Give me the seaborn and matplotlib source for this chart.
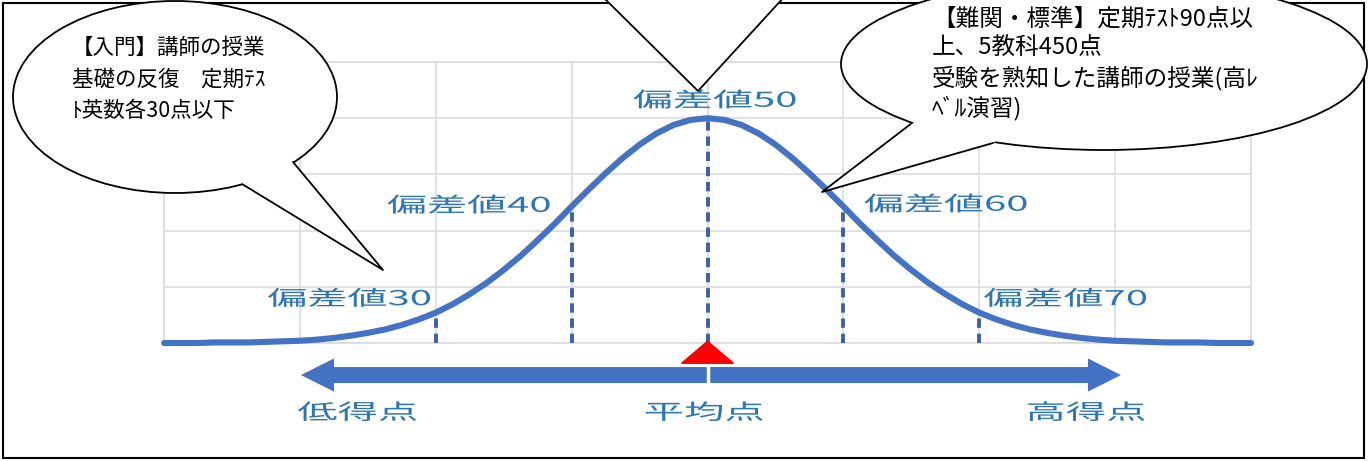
import matplotlib
matplotlib.use("Agg")
import pandas as pd
import seaborn as sns
import matplotlib.pyplot as plt
from matplotlib.patches import Ellipse, Polygon, Rectangle, FancyArrow
from matplotlib.lines import Line2D
from matplotlib.patheffects import AbstractPathEffect
from matplotlib.transforms import Affine2D

# bell curve, heights (one grid row = 1)
score_x = [10, 11.25, 12.5, 13.75, 15, 16.25, 17.5, 18.75, 20, 21.25, 22.5, 23.75, 25, 26.25, 27.5, 28.75,
           30, 31.25, 32.5, 33.75, 35, 36.25, 37.5, 38.75, 40, 41.25, 42.5, 43.75, 45, 46.25, 47.5, 48.75,
           50, 51.25, 52.5, 53.75, 55, 56.25, 57.5, 58.75, 60, 61.25, 62.5, 63.75, 65, 66.25, 67.5, 68.75,
           70, 71.25, 72.5, 73.75, 75, 76.25, 77.5, 78.75, 80, 81.25, 82.5, 83.75, 85, 86.25, 87.5, 88.75, 90]
curve_y = [0.00, 0.00, 0.00, 0.01, 0.01, 0.01, 0.02, 0.03, 0.04, 0.06, 0.09, 0.13, 0.18, 0.24, 0.32, 0.42,
           0.54, 0.69, 0.87, 1.07, 1.30, 1.55, 1.83, 2.12, 2.43, 2.73, 3.02, 3.29, 3.53, 3.73, 3.88, 3.97,
           4.00, 3.97, 3.88, 3.73, 3.53, 3.29, 3.02, 2.73, 2.43, 2.12, 1.83, 1.55, 1.30, 1.07, 0.87, 0.69,
           0.54, 0.42, 0.32, 0.24, 0.18, 0.13, 0.09, 0.06, 0.04, 0.03, 0.02, 0.01, 0.01, 0.01, 0.00, 0.00, 0.00]

dev_marks = [30, 40, 50, 60, 70]
dev_heights = [0.54, 2.43, 4.00, 2.43, 0.54]
dev_labels = ["偏差値30", "偏差値40", "偏差値50", "偏差値60", "偏差値70"]
dev_label_x = [17.6, 26.4, 44.5, 61.5, 70.3]
dev_label_y = [0.78, 2.44, 4.31, 2.46, 0.78]

scale_labels = ["低得点", "平均点", "高得点"]
scale_label_x = [19.8, 45.3, 73.4]
mean_score = 50

left_note = "【入門】講師の授業\n基礎の反復　定期ﾃｽ\nﾄ英数各30点以下"
right_note = "【難関・標準】定期ﾃｽﾄ90点以\n上、5教科450点\n受験を熟知した講師の授業(高ﾚ\nﾍﾞﾙ演習)"

W, H = 1370, 461
BLUE = "#4472C4"
TEXT_BLUE = "#2E75B6"


def px(x, y):
    return (x / W, 1 - y / H)


class Stretch(AbstractPathEffect):
    # widen glyphs horizontally, the source picture is stretched
    def __init__(self, sx):
        super().__init__()
        self.sx = sx

    def draw_path(self, renderer, gc, tpath, affine, rgbFace=None):
        renderer.draw_path(gc, tpath, Affine2D().scale(self.sx, 1) + affine, rgbFace)


sns.set_theme(style="whitegrid")
plt.rcParams['font.family'] = ['Noto Sans CJK JP', 'DejaVu Sans']

fig = plt.figure(figsize=(13.7, 4.61), dpi=100)
fig.patch.set_facecolor("white")
ax = fig.add_axes([164 / W, (H - 343) / H, (1251 - 164) / W, (343 - 62) / H])
ax.set_facecolor("white")

curve = pd.DataFrame({"score": score_x, "height": curve_y})
sns.lineplot(data=curve, x="score", y="height", color=BLUE, linewidth=4.4,
             ax=ax, zorder=4, clip_on=False)

ax.vlines(dev_marks, 0, dev_heights, colors="#3F5F9F", linewidth=2.8,
          linestyles=(0, (2.4, 1.5)), zorder=3)

ax.set_xlim(10, 90)
ax.set_ylim(0, 5)
ax.set_xticks(range(10, 91, 10))
ax.set_yticks(range(0, 6))
ax.tick_params(labelbottom=False, labelleft=False, length=0)
ax.set_xlabel("")
ax.set_ylabel("")
ax.grid(color="#D9D9D9", linewidth=1.1)
for s in ax.spines.values():
    s.set_color("#D9D9D9")
    s.set_linewidth(1.1)

for lab, x, y in zip(dev_labels, dev_label_x, dev_label_y):
    ax.text(x, y, lab, fontsize=14.8, color=TEXT_BLUE, ha="left", va="center",
            path_effects=[Stretch(1.95)], zorder=6)

# mean marker and the two arrows
ax.fill([mean_score - 1.91, mean_score, mean_score + 1.91], [-0.36, 0.03, -0.36],
        color="red", clip_on=False, zorder=5)
ax.add_patch(FancyArrow(mean_score - 0.05, -0.57, -29.87, 0, width=0.285, head_width=0.59,
                        head_length=2.43, length_includes_head=True, color=BLUE, lw=0, clip_on=False))
ax.add_patch(FancyArrow(mean_score + 0.2, -0.57, 30.23, 0, width=0.285, head_width=0.59,
                        head_length=2.43, length_includes_head=True, color=BLUE, lw=0, clip_on=False))

for lab, x in zip(scale_labels, scale_label_x):
    ax.text(x, -1.25, lab, fontsize=15.3, color=TEXT_BLUE, ha="left", va="center",
            path_effects=[Stretch(1.9)])

# outer frame
fig.add_artist(Rectangle(px(3, 458), 1361 / W, 455 / H, transform=fig.transFigure,
                         fill=False, ec="black", lw=1.5, zorder=8))


def bubble(cx, cy, a, b, base1, tip, base2):
    fig.add_artist(Ellipse(px(cx, cy), 2 * a / W, 2 * b / H, transform=fig.transFigure,
                           fc="white", ec="black", lw=1.3, zorder=10))
    inner1 = (base1[0] + (cx - base1[0]) * 0.08, base1[1] + (cy - base1[1]) * 0.08)
    inner2 = (base2[0] + (cx - base2[0]) * 0.08, base2[1] + (cy - base2[1]) * 0.08)
    pts = [px(*inner1), px(*base1), px(*tip), px(*base2), px(*inner2)]
    fig.add_artist(Polygon(pts, closed=True, transform=fig.transFigure,
                           fc="white", ec="none", zorder=11))
    fig.add_artist(Line2D([base1[0] / W, tip[0] / W, base2[0] / W],
                          [1 - base1[1] / H, 1 - tip[1] / H, 1 - base2[1] / H],
                          transform=fig.transFigure, color="black", lw=1.3, zorder=12))


bubble(175, 97, 162, 96, (242, 184), (383, 270), (293, 162))
bubble(1104, 64, 263, 86, (912, 123), (822, 192), (993, 143))

# top bubble, only its tail is inside the picture
fig.add_artist(Polygon([px(602, -4), px(698, 91), px(785, -4)], closed=True,
                       transform=fig.transFigure, fc="white", ec="none", zorder=11))
fig.add_artist(Line2D([602 / W, 698 / W, 785 / W], [1 + 4 / H, 1 - 91 / H, 1 + 4 / H],
                      transform=fig.transFigure, color="black", lw=1.3, zorder=12))

fig.text(72 / W, 1 - 37 / H, left_note, fontsize=15.5, color="black", ha="left", va="top",
         linespacing=1.55, zorder=13)
fig.text(932 / W, 1 - 8 / H, right_note, fontsize=17, color="black", ha="left", va="top",
         linespacing=1.3, zorder=13)

fig.savefig("out.png", dpi=100)
